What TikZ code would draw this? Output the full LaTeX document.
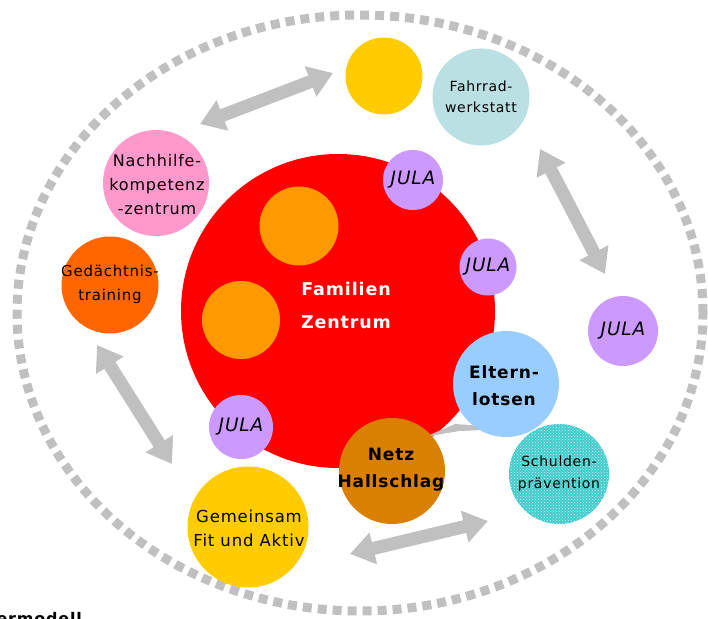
\documentclass[tikz,border=0pt]{standalone}
\usepackage{fontspec}
\setmainfont{DejaVu Sans}[LetterSpace=5]
\usetikzlibrary{arrows.meta,patterns}
\definecolor{cred}{HTML}{FF0000}
\definecolor{corange}{HTML}{FF9900}
\definecolor{cpurple}{HTML}{CC99FF}
\definecolor{cyellow}{HTML}{FFCC00}
\definecolor{cfahr}{HTML}{BBE0E3}
\definecolor{cpink}{HTML}{FF99CC}
\definecolor{cged}{HTML}{FF6600}
\definecolor{celt}{HTML}{99CCFF}
\definecolor{cnetz}{HTML}{D98000}
\definecolor{cteal}{HTML}{40CCCC}
\definecolor{cgray}{HTML}{C0C0C0}
\tikzset{
  circ/.style={circle, inner sep=0pt, draw=none},
  lbl/.style={align=center, inner sep=0pt, text=black},
  blockarr/.style={draw=cgray, line width=13pt,
    {Triangle[width=31pt,length=24pt]}-{Triangle[width=31pt,length=24pt]}},
  julacirc/.style={circ, fill=cpurple},
  julatxt/.style={lbl, font=\fontsize{18.5}{20}\selectfont\itshape},
}
\begin{document}
\begin{tikzpicture}[x=1pt,y=-1pt]
\useasboundingbox (0,0) rectangle (708,618);
\fill[white] (0,0) rectangle (708,618);
% outer dotted ellipse
\draw[cgray, line width=9pt, dash pattern=on 9pt off 6pt] (360,313) ellipse [x radius=343pt, y radius=298pt];
% block arrows
\coordinate (a1s) at (200,124);
\coordinate (a1e) at (333,73);
\coordinate (a2s) at (540,149);
\coordinate (a2e) at (605,274);
\coordinate (a3s) at (97,345);
\coordinate (a3e) at (172,464);
\coordinate (a4s) at (350,554);
\coordinate (a4e) at (488,521);
\draw[blockarr] (a1s) -- (a1e);
\draw[blockarr] (a2s) -- (a2e);
\draw[blockarr] (a3s) -- (a3e);
\draw[blockarr] (a4s) -- (a4e);
% big red circle
\node[circ, fill=cred, minimum size=314pt] (red) at (338,311) {};
\node[circ, fill=corange, minimum size=79pt] (or1) at (299,226) {};
\node[circ, fill=corange, minimum size=78pt] (or2) at (241,320) {};
\node[lbl, text=white, font=\fontsize{17.5}{33}\selectfont\bfseries] (famtxt) at (346,305) {Familien\\Zentrum};
% JULA circles
\node[julacirc, minimum size=60pt, label={[julatxt]center:JULA}] (jula1) at (413,180) {};
\node[julacirc, minimum size=57pt, label={[julatxt]center:JULA}] (jula2) at (488,267) {};
\node[julacirc, minimum size=70pt, label={[julatxt]center:JULA}] (jula3) at (623,331) {};
\node[julacirc, minimum size=64pt, label={[julatxt]center:JULA}] (jula4) at (241,427) {};
% outer circles
\node[circ, fill=cyellow, minimum size=77pt] (topy) at (384,76) {};
\node[circ, fill=cfahr, minimum size=97pt] (fahr) at (481,97) {};
\node[lbl, font=\fontsize{14}{21}\selectfont] (fahrT) at (fahr) {Fahrrad-\\werkstatt};
\node[circ, fill=cpink, minimum size=106pt] (nach) at (156,183) {};
\node[lbl, font=\fontsize{16}{24}\selectfont] (nachT) at (157,185) {Nachhilfe-\\kompetenz\\-zentrum};
\node[circ, fill=cged, minimum size=97pt] (ged) at (110,285) {};
\node[lbl, font=\fontsize{15}{24}\selectfont] (gedT) at (110,284) {Gedächtnis-\\training};
% small connector
\coordinate (s1) at (482,426);
\coordinate (s2) at (425,437);
\fill[cgray] (s2) -- (455,424) -- (s1) -- (483,430) -- (459,431) -- cycle;
\node[circ, fill=celt, minimum size=106pt] (elt) at (506,384) {};
\node[lbl, font=\fontsize{17}{27}\selectfont\bfseries] (eltT) at (504,386) {Eltern-\\lotsen};
\node[circ, fill=cnetz, minimum size=106pt] (netz) at (392,471) {};
\node[lbl, font=\fontsize{17}{27}\selectfont\bfseries] (netzT) at (391,470) {Netz\\Hallschlag};
\node[circ, minimum size=100pt, preaction={fill=cteal}, pattern=crosshatch dots, pattern color=white!75!cteal] (schul) at (559,474) {};
\node[lbl, font=\fontsize{14}{22}\selectfont] (schulT) at (559,474) {Schulden-\\prävention};
\node[circ, fill=cyellow, minimum size=121pt] (gem) at (248,527) {};
\node[lbl, font=\fontsize{16.5}{24}\selectfont] (gemT) at (249,528) {Gemeinsam\\Fit und Aktiv};
% cut-off caption at the bottom left
\node[anchor=north east, inner sep=0pt, font=\fontsize{16}{18}\selectfont\bfseries] (cap) at (82,612) {ermodell};
\end{tikzpicture}
\end{document}
